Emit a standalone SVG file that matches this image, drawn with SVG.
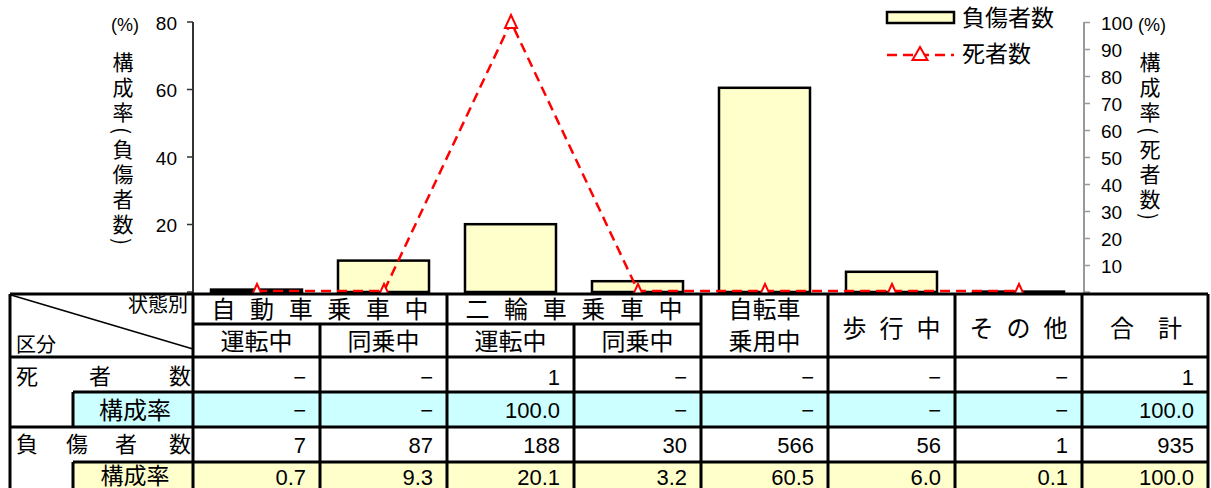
<svg xmlns="http://www.w3.org/2000/svg" width="1211" height="488" viewBox="0 0 1211 488">
<style>
.jp{font-family:"Noto Sans CJK JP","Noto Sans",sans-serif;fill:#000}
.num{font-family:"Liberation Sans",Arial,sans-serif;fill:#000}
.ax{font-family:"Liberation Sans",Arial,sans-serif;font-size:19px;fill:#000}
.bar{fill:#FFFFCC;stroke:#000;stroke-width:2.5}
.grid{stroke:#000;stroke-width:3;fill:none}
.dash{fill:none;stroke:#FF0000;stroke-width:2.5;stroke-dasharray:10 6}
.tri{fill:#fff;stroke:#FF0000;stroke-width:2}
.v{writing-mode:vertical-rl;font-size:21px;letter-spacing:4px}
.cell{font-size:22px;text-anchor:end}
.h{font-size:24px;text-anchor:middle}
</style>
<defs>
<clipPath id="plot"><rect x="180" y="0" width="920" height="293"/></clipPath>
</defs>
<rect width="1211" height="488" fill="#fff"/>

<g id="left-axis">
<line x1="193" y1="22" x2="193" y2="293" stroke="#333" stroke-width="2"/>
<path d="M187,22H193M187,89.5H193M187,157H193M187,224.5H193M187,292H193" stroke="#333" stroke-width="1.5"/>
<g class="ax" text-anchor="end">
<text x="177" y="30">80</text><text x="177" y="97">60</text><text x="177" y="165">40</text><text x="177" y="232">20</text>
</g>
<text class="num" x="125" y="31" font-size="18" text-anchor="middle">(%)</text>
<text class="jp v" x="123" y="52">構成率(負傷者数)</text>
</g>

<g id="right-axis">
<line x1="1084" y1="22" x2="1084" y2="293" stroke="#999" stroke-width="2"/>
<path d="M1084,22.5H1090M1084,49.5H1090M1084,76.5H1090M1084,103.5H1090M1084,130.5H1090M1084,157.5H1090M1084,184.5H1090M1084,211.5H1090M1084,238.5H1090M1084,265.5H1090M1084,292H1090" stroke="#999" stroke-width="1.5"/>
<g class="ax">
<text x="1101" y="30">100</text><text x="1101" y="57">90</text><text x="1101" y="84">80</text><text x="1101" y="111">70</text><text x="1101" y="138">60</text><text x="1101" y="165">50</text><text x="1101" y="192">40</text><text x="1101" y="219">30</text><text x="1101" y="246">20</text><text x="1101" y="273">10</text>
</g>
<text class="num" x="1152" y="31" font-size="18" text-anchor="middle">(%)</text>
<text class="jp v" x="1150" y="52">構成率(死者数)</text>
</g>

<g id="bars">
<rect class="bar" x="211" y="289.6" width="91" height="2.4"/>
<rect class="bar" x="338" y="260.6" width="91" height="31.4"/>
<rect class="bar" x="465" y="224.2" width="91" height="67.8"/>
<rect class="bar" x="592" y="281.2" width="91" height="10.8"/>
<rect class="bar" x="719" y="87.8" width="91" height="204.2"/>
<rect class="bar" x="846" y="271.8" width="91" height="20.2"/>
<rect class="bar" x="973" y="291.6" width="91" height="0.4"/>
</g>

<g id="connectors" clip-path="url(#plot)">
<polyline class="dash" points="257,291 384,291 511,22 638,291 765,291 892,291 1019,291"/>
<g>
<path class="tri" d="M257,284 L263,297 L251,297 Z"/>
<path class="tri" d="M384,284 L390,297 L378,297 Z"/>
<path class="tri" d="M511,15 L517,28 L505,28 Z"/>
<path class="tri" d="M638,284 L644,297 L632,297 Z"/>
<path class="tri" d="M765,284 L771,297 L759,297 Z"/>
<path class="tri" d="M892,284 L898,297 L886,297 Z"/>
<path class="tri" d="M1019,284 L1025,297 L1013,297 Z"/>
</g>
</g>

<g id="legend">
<rect class="bar" x="887" y="12" width="67" height="11"/>
<text class="jp" x="962" y="26" font-size="23">負傷者数</text>
<line class="dash" x1="887" y1="55" x2="954" y2="55" stroke-dasharray="11 8"/>
<path class="tri" d="M920,47 L927.5,60 L912.5,60 Z"/>
<text class="jp" x="962" y="62" font-size="23">死者数</text>
</g>

<g id="table">
<rect x="73" y="392" width="1135" height="35" fill="#CCFFFF"/>
<rect x="73" y="462" width="1135" height="30" fill="#FFFFCC"/>
<path class="grid" d="M10,294H1208M193,324H701M10,357H1208M73,392H1208M10,427H1208M73,462H1208
M10,294V490M193,294V490M73,392V427M73,462V490M320,324V490M447,294V490M574,324V490M701,294V490M828,294V490M955,294V490M1082,294V490M1208,294V490"/>
<line x1="11" y1="295" x2="193" y2="349" stroke="#000" stroke-width="1.5"/>

<g id="header" class="jp">
<text x="188" y="312" font-size="20" text-anchor="end">状態別</text>
<text x="16" y="352" font-size="20">区分</text>
<text class="h" x="223.5 262.1 300.7 339.3 377.9 416.5" y="318">自動車乗車中</text>
<text class="h" x="256.5" y="350">運転中</text>
<text class="h" x="383.5" y="350">同乗中</text>
<text class="h" x="477.5 516.1 554.7 593.3 631.9 670.5" y="318">二輪車乗車中</text>
<text class="h" x="510.5" y="350">運転中</text>
<text class="h" x="637.5" y="350">同乗中</text>
<text class="h" x="764.5" y="318">自転車</text>
<text class="h" x="764.5" y="350">乗用中</text>
<text class="h" x="854.5 891.5 928.5" y="337">歩行中</text>
<text class="h" x="981.5 1018.5 1055.5" y="337">その他</text>
<text class="h" x="1122 1170" y="337">合計</text>
</g>

<g id="row-labels" class="jp">
<text x="27 100 180" y="384" font-size="22" text-anchor="middle">死者数</text>
<text x="135" y="419" font-size="24" text-anchor="middle">構成率</text>
<text x="27 77 126 180" y="452" font-size="22" text-anchor="middle">負傷者数</text>
<text x="135" y="484" font-size="23" text-anchor="middle">構成率</text>
</g>

<g id="row-deaths" class="num cell">
<text x="306" y="385">−</text><text x="433" y="385">−</text><text x="560" y="385">1</text><text x="687" y="385">−</text><text x="814" y="385">−</text><text x="941" y="385">−</text><text x="1068" y="385">−</text><text x="1194" y="385">1</text>
</g>
<g id="row-deaths-rate" class="num cell">
<text x="306" y="418">−</text><text x="433" y="418">−</text><text x="560" y="418">100.0</text><text x="687" y="418">−</text><text x="814" y="418">−</text><text x="941" y="418">−</text><text x="1068" y="418">−</text><text x="1194" y="418">100.0</text>
</g>
<g id="row-injured" class="num cell">
<text x="306" y="453">7</text><text x="433" y="453">87</text><text x="560" y="453">188</text><text x="687" y="453">30</text><text x="814" y="453">566</text><text x="941" y="453">56</text><text x="1068" y="453">1</text><text x="1194" y="453">935</text>
</g>
<g id="row-injured-rate" class="num cell">
<text x="306" y="485">0.7</text><text x="433" y="485">9.3</text><text x="560" y="485">20.1</text><text x="687" y="485">3.2</text><text x="814" y="485">60.5</text><text x="941" y="485">6.0</text><text x="1068" y="485">0.1</text><text x="1194" y="485">100.0</text>
</g>
</g>
</svg>
